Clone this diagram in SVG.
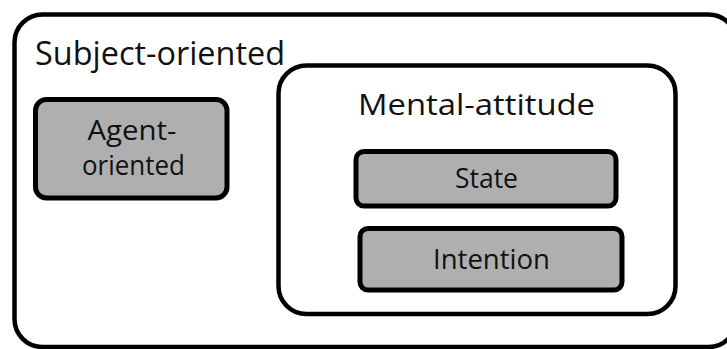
<svg xmlns="http://www.w3.org/2000/svg" width="727" height="349" viewBox="0 0 727 349">
<style>
.frame{fill:#ffffff;stroke:#000000;stroke-width:4.5}
.box{fill:#afafaf;stroke:#000000;stroke-width:5}
.t{font-family:"Open Sans","Liberation Sans",sans-serif;fill:#111111}
</style>
<rect width="727" height="349" fill="#ffffff"/>
<g id="subject-oriented">
<rect class="frame" x="14.5" y="14.5" width="722" height="332.5" rx="28"/>
<text class="t" x="35" y="65" font-size="32" textLength="250" lengthAdjust="spacingAndGlyphs">Subject-oriented</text>
</g>
<g id="agent-oriented">
<rect class="box" x="35.5" y="99.5" width="191.5" height="98.5" rx="11"/>
<text class="t" x="132" y="140" font-size="28" text-anchor="middle" textLength="89" lengthAdjust="spacingAndGlyphs">Agent-</text>
<text class="t" x="133.5" y="175" font-size="28" text-anchor="middle" textLength="103" lengthAdjust="spacingAndGlyphs">oriented</text>
</g>
<g id="mental-attitude">
<rect class="frame" x="278.5" y="65.5" width="397" height="248.5" rx="28"/>
<text class="t" x="476.5" y="115" font-size="28.5" text-anchor="middle" textLength="237" lengthAdjust="spacingAndGlyphs">Mental-attitude</text>
</g>
<g id="state">
<rect class="box" x="356" y="151.5" width="260" height="54.5" rx="8"/>
<text class="t" x="486.5" y="188" font-size="28" text-anchor="middle" textLength="63" lengthAdjust="spacingAndGlyphs">State</text>
</g>
<g id="intention">
<rect class="box" x="360" y="228.5" width="262" height="61.5" rx="8"/>
<text class="t" x="491.5" y="269" font-size="28" text-anchor="middle" textLength="117" lengthAdjust="spacingAndGlyphs">Intention</text>
</g>
<g id="connectors"/>
</svg>
